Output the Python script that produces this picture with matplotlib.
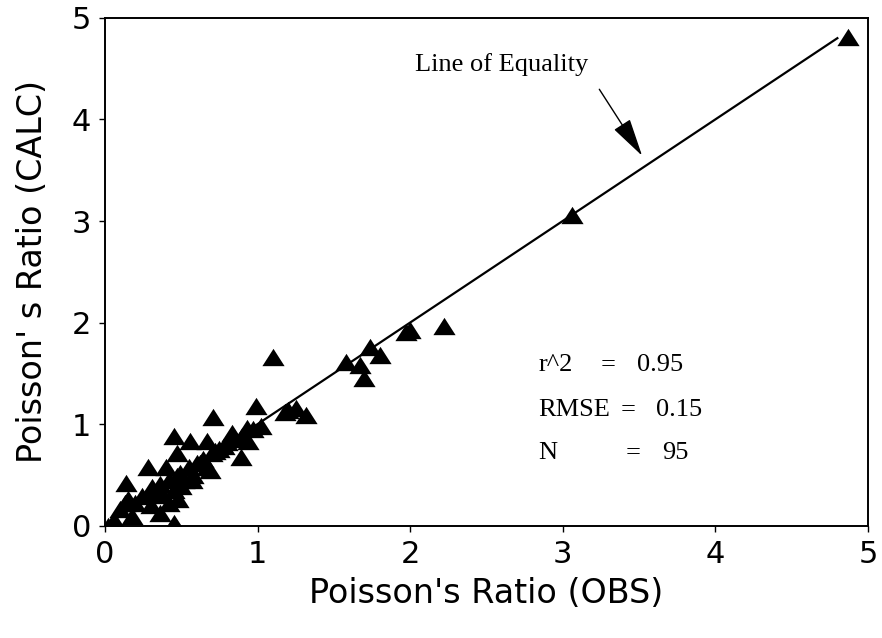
import numpy as np
import matplotlib
matplotlib.use("Agg")
import matplotlib.pyplot as plt

# observed vs calculated Poisson's ratio
obs = [0.02, 0.45, 0.06, 0.10, 0.13, 0.15, 0.14, 0.18, 0.20, 0.24,
       0.28, 0.30, 0.31, 0.33, 0.36, 0.36, 0.38, 0.40, 0.42, 0.42,
       0.45, 0.45, 0.47, 0.47, 0.48, 0.49, 0.50, 0.52, 0.55, 0.56,
       0.57, 0.58, 0.60, 0.62, 0.64, 0.67, 0.67, 0.69, 0.70, 0.71,
       0.72, 0.75, 0.78, 0.80, 0.83, 0.85, 0.89, 0.90, 0.93, 0.94,
       0.97, 0.99, 1.02, 1.10, 1.18, 1.20, 1.25, 1.32, 1.58, 1.67,
       1.70, 1.74, 1.80, 1.97, 2.00, 2.22, 3.06, 4.87]
calc = [0.00, 0.03, 0.06, 0.16, 0.22, 0.26, 0.42, 0.10, 0.22, 0.29,
        0.58, 0.20, 0.38, 0.32, 0.41, 0.13, 0.30, 0.58, 0.45, 0.22,
        0.88, 0.35, 0.72, 0.49, 0.26, 0.52, 0.39, 0.45, 0.58, 0.83,
        0.45, 0.50, 0.62, 0.62, 0.66, 0.83, 0.58, 0.55, 0.72, 1.07,
        0.74, 0.76, 0.78, 0.82, 0.91, 0.85, 0.68, 0.88, 0.96, 0.83,
        0.95, 1.18, 0.98, 1.66, 1.12, 1.14, 1.16, 1.09, 1.61, 1.58,
        1.45, 1.76, 1.68, 1.91, 1.93, 1.97, 3.06, 4.81]

equality = [0, 4.8]

stat_names = ["r^2", "RMSE", "N"]
stat_values = ["0.95", "0.15", "95"]

fig = plt.figure(figsize=(8.82, 6.38), dpi=100)
ax = fig.add_axes([0.119, 0.176, 0.865, 0.796])

tri = [(-1, -0.78), (1, -0.78), (0, 0.78)]
ax.plot(obs, calc, linestyle="none", marker=tri, markersize=16,
        color="black", markeredgewidth=0)
ax.plot(equality, equality, color="black", linewidth=1.6)

ax.set_xlim(0, 5)
ax.set_ylim(0, 5)
ax.set_xticks(range(6))
ax.set_yticks(range(6))
ax.tick_params(direction="out", length=4, width=1, labelsize=22)
ax.tick_params(axis="x", pad=6)
ax.tick_params(axis="y", pad=6)
for s in ax.spines.values():
    s.set_linewidth(1.4)

ax.set_xlabel("Poisson's Ratio (OBS)", fontsize=24, labelpad=6)
ax.set_ylabel("Poisson' s Ratio (CALC)", fontsize=24, labelpad=16)

serif = "Liberation Serif"
ax.text(2.6, 4.54, "Line of Equality", fontsize=19, family=serif,
        ha="center", va="center")
ax.annotate("", xy=(3.53, 3.62), xytext=(3.23, 4.32),
            arrowprops=dict(arrowstyle="-|>,head_length=1.2,head_width=0.3",
                            color="black", lw=1, mutation_scale=20))

rows_y = [1.58, 1.14, 0.72]
eq_x = [3.25, 3.38, 3.41]
val_x = [3.49, 3.61, 3.65]
for name, val, yy, ex, vx in zip(stat_names, stat_values, rows_y, eq_x, val_x):
    ax.text(2.84, yy, name, fontsize=19, family=serif, ha="left", va="center")
    ax.text(ex, yy, "=", fontsize=19, family=serif, ha="left", va="center")
    ax.text(vx, yy, val, fontsize=19, family=serif, ha="left", va="center")

fig.savefig("out.png", dpi=100)
